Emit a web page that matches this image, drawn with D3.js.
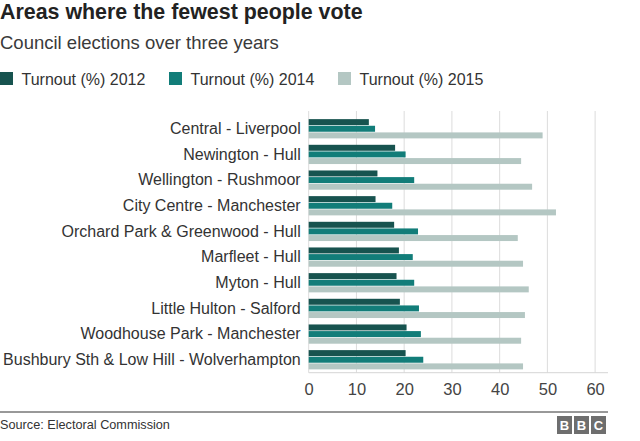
<!DOCTYPE html>
<html>
<head>
<meta charset="utf-8">
<script src="https://cdn.jsdelivr.net/npm/d3@7"></script>
<style>
  html, body { margin: 0; padding: 0; background: #fff; }
  svg { display: block; font-family: "Liberation Sans", Arial, Helvetica, sans-serif; }
</style>
</head>
<body>
<svg id="chart" width="640" height="441"></svg>
<script>
const categories = [
  "Central - Liverpool",
  "Newington - Hull",
  "Wellington - Rushmoor",
  "City Centre - Manchester",
  "Orchard Park & Greenwood - Hull",
  "Marfleet - Hull",
  "Myton - Hull",
  "Little Hulton - Salford",
  "Woodhouse Park - Manchester",
  "Bushbury Sth & Low Hill - Wolverhampton"
];
const seriesNames = ["Turnout (%) 2012", "Turnout (%) 2014", "Turnout (%) 2015"];
const turnout2012 = [12.6, 18.1, 14.4, 14.0, 17.9, 18.9, 18.4, 19.1, 20.5, 20.3];
const turnout2014 = [13.9, 20.3, 22.1, 17.5, 22.9, 21.8, 22.1, 23.1, 23.5, 24.0];
const turnout2015 = [49.0, 44.5, 46.8, 51.8, 43.8, 44.9, 46.1, 45.3, 44.5, 44.9];
const xTicks = [0, 10, 20, 30, 40, 50, 60];
const seriesColors = ["#17534f", "#127d79", "#b4c7c3"];

const series = [turnout2012, turnout2014, turnout2015];
const svg = d3.select("#chart");

// Title & subtitle
svg.append("text").attr("x", 0).attr("y", 19)
  .attr("font-size", "21.4px").attr("font-weight", "bold").attr("fill", "#222")
  .text("Areas where the fewest people vote");
svg.append("text").attr("x", 0).attr("y", 49)
  .attr("font-size", "18.5px").attr("fill", "#3a3a3a")
  .text("Council elections over three years");

// Legend
const legend = svg.append("g");
seriesNames.forEach((name, i) => {
  const g = legend.append("g").attr("transform", `translate(${i * 169},0)`);
  g.append("rect").attr("x", 0).attr("y", 72).attr("width", 13).attr("height", 13)
    .attr("fill", seriesColors[i]);
  g.append("text").attr("x", 21.5).attr("y", 84.5)
    .attr("font-size", "16px").attr("fill", "#333").text(name);
});

// Scales
const plotTop = 111, plotBottom = 372.7;
const x = d3.scaleLinear().domain([0, 62.7]).range([308.7, 608]);
const y = d3.scaleBand().domain(categories).range([114, 374.5])
  .paddingInner(0.25).paddingOuter(0.2);
const ySub = d3.scaleBand().domain(d3.range(series.length)).range([0, y.bandwidth()])
  .paddingInner(0.1);

// Gridlines
svg.append("g").selectAll("line").data(xTicks).join("line")
  .attr("x1", d => x(d)).attr("x2", d => x(d))
  .attr("y1", plotTop).attr("y2", plotBottom)
  .attr("stroke", "#dcdcdc").attr("stroke-width", 1);

// Baseline
svg.append("line").attr("x1", x(0)).attr("x2", x(62.7))
  .attr("y1", plotBottom).attr("y2", plotBottom)
  .attr("stroke", "#d6d6d6").attr("stroke-width", 1);

// Bars
const groups = svg.append("g").selectAll("g").data(categories).join("g")
  .attr("transform", d => `translate(0,${y(d)})`);
groups.selectAll("rect")
  .data((d, ci) => series.map((s, si) => ({ si, v: s[ci] })))
  .join("rect")
  .attr("x", x(0))
  .attr("y", d => ySub(d.si))
  .attr("width", d => x(d.v) - x(0))
  .attr("height", ySub.bandwidth())
  .attr("fill", d => seriesColors[d.si]);

// Y axis labels
const yAxis = d3.axisLeft(y).tickSize(0).tickPadding(8);
const yg = svg.append("g").attr("transform", `translate(${x(0)},0)`).call(yAxis);
yg.select(".domain").remove();
yg.selectAll("text").attr("font-size", "16px").attr("fill", "#333")
  .attr("font-family", "'Liberation Sans', Arial, sans-serif");

// X axis labels
const xAxis = d3.axisBottom(x).tickValues(xTicks).tickSize(0).tickPadding(11);
const xg = svg.append("g").attr("transform", `translate(0,${plotBottom})`).call(xAxis);
xg.select(".domain").remove();
xg.selectAll("text").attr("font-size", "16.5px").attr("fill", "#444")
  .attr("font-family", "'Liberation Sans', Arial, sans-serif");

// Footer
svg.append("line").attr("x1", 0).attr("x2", 608).attr("y1", 412).attr("y2", 412)
  .attr("stroke", "#333").attr("stroke-width", 1);
svg.append("text").attr("x", 0).attr("y", 429)
  .attr("font-size", "12.7px").attr("fill", "#333")
  .text("Source: Electoral Commission");

const bbc = svg.append("g");
["B", "B", "C"].forEach((ch, i) => {
  bbc.append("rect").attr("x", 557 + i * 17).attr("y", 416).attr("width", 15).attr("height", 18)
    .attr("fill", "#6e6e6e");
  bbc.append("text").attr("x", 557 + i * 17 + 7.5).attr("y", 430)
    .attr("text-anchor", "middle").attr("font-size", "13px").attr("font-weight", "bold")
    .attr("fill", "#fff").text(ch);
});
</script>
</body>
</html>
